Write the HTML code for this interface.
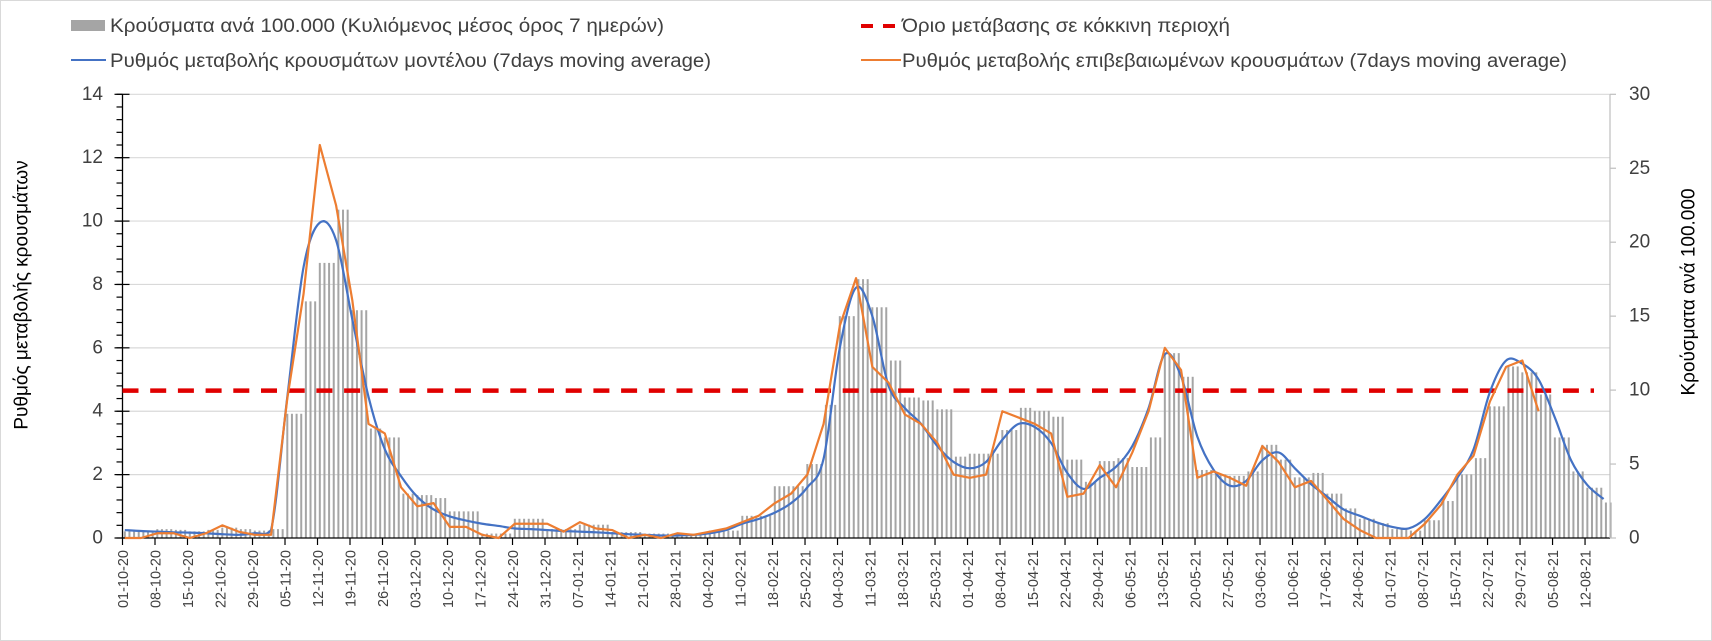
<!DOCTYPE html>
<html><head><meta charset="utf-8"><style>
html,body{margin:0;padding:0;background:#fff}
svg{display:block;font-family:"Liberation Sans",Arial,sans-serif}
</style></head><body>
<svg id="chart" width="1712" height="641" viewBox="0 0 1712 641" xmlns="http://www.w3.org/2000/svg">
<rect x="0.5" y="0.5" width="1711" height="640" fill="#fff" stroke="#d9d9d9"/>
<g id="grid"></g>
<g id="bars"></g>
<g id="axes"></g>
<g id="lines"></g>
<g id="legend">
 <g>
  <rect x="71" y="20" width="34" height="11" fill="#a5a5a5"/>
  <text x="110" y="32" font-size="19" fill="#404040" textLength="554" lengthAdjust="spacingAndGlyphs">Κρούσματα ανά 100.000 (Κυλιόμενος μέσος όρος 7 ημερών)</text>
 </g>
 <g>
  <line x1="71" y1="60" x2="106" y2="60" stroke="#4472c4" stroke-width="2"/>
  <text x="110" y="67" font-size="19" fill="#404040" textLength="601" lengthAdjust="spacingAndGlyphs">Ρυθμός μεταβολής κρουσμάτων μοντέλου (7days moving average)</text>
 </g>
 <g>
  <line x1="861" y1="26" x2="900" y2="26" stroke="#e00000" stroke-width="4" stroke-dasharray="12,10"/>
  <text x="902" y="32" font-size="19" fill="#404040" textLength="328" lengthAdjust="spacingAndGlyphs">Όριο μετάβασης σε κόκκινη περιοχή</text>
 </g>
 <g>
  <line x1="861" y1="60" x2="901" y2="60" stroke="#ed7d31" stroke-width="2"/>
  <text x="902" y="67" font-size="19" fill="#404040" textLength="665" lengthAdjust="spacingAndGlyphs">Ρυθμός μεταβολής επιβεβαιωμένων κρουσμάτων (7days moving average)</text>
 </g>
</g>
<text transform="translate(22,295) rotate(-90)" text-anchor="middle" dominant-baseline="central" font-size="19" fill="#000">Ρυθμός μεταβολής κρουσμάτων</text>
<text transform="translate(1689,292) rotate(-90)" text-anchor="middle" dominant-baseline="central" font-size="19" fill="#000">Κρούσματα ανά 100.000</text>
</svg>
<script>
// ---- data (half-week samples, step 3.5 days from 01-10-20) ----
const weekLabels = ["01-10-20","08-10-20","15-10-20","22-10-20","29-10-20","05-11-20","12-11-20","19-11-20","26-11-20","03-12-20","10-12-20","17-12-20","24-12-20","31-12-20","07-01-21","14-01-21","21-01-21","28-01-21","04-02-21","11-02-21","18-02-21","25-02-21","04-03-21","11-03-21","18-03-21","25-03-21","01-04-21","08-04-21","15-04-21","22-04-21","29-04-21","06-05-21","13-05-21","20-05-21","27-05-21","03-06-21","10-06-21","17-06-21","24-06-21","01-07-21","08-07-21","15-07-21","22-07-21","29-07-21","05-08-21","12-08-21"];
const leftTicks = [0,2,4,6,8,10,12,14];
const rightTicks = [0,5,10,15,20,25,30];
const redThreshold = 4.65;
const modelRate = [0.25,0.22,0.2,0.18,0.17,0.15,0.12,0.1,0.15,0.25,4.45,8.55,9.95,9.4,6.9,4.45,2.8,1.95,1.3,0.9,0.68,0.55,0.45,0.38,0.3,0.28,0.25,0.22,0.2,0.18,0.15,0.12,0.1,0.08,0.08,0.1,0.15,0.25,0.45,0.6,0.8,1.1,1.6,2.5,6.0,7.9,7.0,4.8,4.1,3.6,2.9,2.4,2.2,2.4,3.1,3.6,3.5,3.0,2.05,1.55,1.9,2.25,2.9,4.1,5.8,5.1,3.2,2.15,1.65,1.8,2.45,2.7,2.2,1.7,1.3,0.9,0.7,0.5,0.35,0.3,0.6,1.2,1.9,2.8,4.6,5.6,5.5,5.0,3.8,2.45,1.67,1.23];
const confirmedRate = [0,0,0.15,0.15,0,0.15,0.4,0.2,0.1,0.1,4.4,7.7,12.4,10.5,7.5,3.6,3.3,1.6,1.0,1.1,0.35,0.35,0.1,0,0.45,0.45,0.45,0.2,0.5,0.3,0.25,0,0.1,0,0.15,0.1,0.2,0.3,0.5,0.7,1.1,1.4,2.0,3.6,6.7,8.2,5.4,4.9,3.9,3.6,3.0,2.0,1.9,2.0,4.0,3.8,3.6,3.3,1.3,1.4,2.3,1.6,2.7,4.0,6.0,5.3,1.9,2.1,1.9,1.65,2.9,2.4,1.6,1.8,1.2,0.6,0.25,0,0,0,0.45,1.05,2.0,2.6,4.3,5.4,5.6,4.0];
const casesPer100k = [0.45,0.5,0.6,0.55,0.45,0.55,0.7,0.6,0.5,0.6,8.4,16,18.6,22.2,15.4,7.4,6.8,3.0,2.9,2.7,1.8,1.8,0.3,0.3,1.3,1.3,0.6,0.6,0.9,0.9,0.4,0.4,0.3,0.3,0.3,0.3,0.5,0.5,1.5,1.5,3.5,3.5,5,9,15,17.5,15.6,12,9.5,9.3,8.7,5.5,5.7,5.7,7.3,8.8,8.6,8.2,5.3,3.8,5.2,5.4,4.8,6.8,12.5,10.9,4.6,4.3,4.2,4.5,6.3,5.3,4.1,4.4,3.0,2.0,1.3,1.0,0.6,0.5,1.2,2.5,4.3,5.4,8.9,11.6,11.2,9.7,6.8,4.5,3.4,2.4];
const totalDays = 321;

// ---- scales ----
const X0 = 122.5, DAY = 4.643, X1 = 1610, Y0 = 538, YT = 94.3;
const xDay = d => X0 + d * DAY;
const yL = v => Y0 - v * (Y0 - YT) / 14;
const yR = v => Y0 - v * (Y0 - YT) / 30;
const NS = "http://www.w3.org/2000/svg";
function mk(tag, attrs, parent){const e=document.createElementNS(NS,tag);for(const k in attrs)e.setAttribute(k,attrs[k]);parent.appendChild(e);return e;}
const grid=document.getElementById('grid'), bars=document.getElementById('bars'), axes=document.getElementById('axes'), lines=document.getElementById('lines');

leftTicks.forEach(v=>{ if(v>0){const g=mk('line',{x1:X0,x2:X1,y1:yL(v),y2:yL(v),stroke:'#d9d9d9','stroke-width':1.2},grid);

}});

// bars (daily, from half-week samples)
for(let d=0; d<totalDays; d++){
  const v = casesPer100k[Math.min(casesPer100k.length-1, Math.floor(d/3.5))];
  const b = mk('rect',{x:xDay(d)+1.3,y:yR(v),width:2,height:Y0-yR(v),fill:'#a5a5a5'},bars);
  
  
}

// axes
mk('line',{x1:X0,x2:X0,y1:YT,y2:Y0,stroke:'#000','stroke-width':1.3},axes);
mk('line',{x1:X0,x2:X1,y1:Y0,y2:Y0,stroke:'#000','stroke-width':1.3},axes);
mk('line',{x1:X1,x2:X1,y1:YT,y2:Y0,stroke:'#bfbfbf','stroke-width':1.2},axes);
for(let v=0; v<=14.001; v+=0.4){ mk('line',{x1:X0-6,x2:X0,y1:yL(v),y2:yL(v),stroke:'#000','stroke-width':1.2},axes); }
leftTicks.forEach(v=>{
  mk('line',{x1:X0-8,x2:X0+7,y1:yL(v),y2:yL(v),stroke:'#000','stroke-width':1.2},axes);
  const t=mk('text',{x:103,y:yL(v),'text-anchor':'end','dominant-baseline':'central','font-size':19,fill:'#404040'},axes);
  t.textContent=v;
  
  
});
rightTicks.forEach(v=>{
  mk('line',{x1:X1,x2:X1+6,y1:yR(v),y2:yR(v),stroke:'#bfbfbf','stroke-width':1.2},axes);
  const t=mk('text',{x:1629,y:yR(v),'text-anchor':'start','dominant-baseline':'central','font-size':19,fill:'#404040'},axes);
  t.textContent=v;
  
  
});
weekLabels.forEach((lab,k)=>{
  const x=xDay(7*k);
  mk('line',{x1:x,x2:x,y1:Y0,y2:Y0+7,stroke:'#000','stroke-width':1.2},axes);
  const t=mk('text',{transform:`translate(${x+1.5},550) rotate(-90)`,'text-anchor':'end','dominant-baseline':'central','font-size':14.5,fill:'#404040'},axes);
  t.textContent=lab;
  
  
});

// red threshold
const red=mk('line',{x1:X0,x2:1594,y1:yL(redThreshold),y2:yL(redThreshold),stroke:'#e00000','stroke-width':4.5,'stroke-dasharray':'16,11.7'},lines);



// smooth path (catmull-rom, control points clamped to baseline)
function smooth(pts){let d=`M${pts[0][0]},${pts[0][1]}`;for(let i=0;i<pts.length-1;i++){const p0=pts[i-1]||pts[i],p1=pts[i],p2=pts[i+1],p3=pts[i+2]||p2;
const c1=[p1[0]+(p2[0]-p0[0])/6,Math.min(Y0-1,p1[1]+(p2[1]-p0[1])/6)],c2=[p2[0]-(p3[0]-p1[0])/6,Math.min(Y0-1,p2[1]-(p3[1]-p1[1])/6)];
d+=` C${c1[0]},${c1[1]} ${c2[0]},${c2[1]} ${p2[0]},${p2[1]}`;}return d;}
const bluePts=modelRate.map((v,i)=>[xDay(3.5*i)+2.3,yL(v)]);
const blue=mk('path',{d:smooth(bluePts),fill:'none',stroke:'#4472c4','stroke-width':2.2},lines);


const orPts=confirmedRate.map((v,i)=>`${xDay(3.5*i)+2.3},${yL(v)}`).join(' ');
const orange=mk('polyline',{points:orPts,fill:'none',stroke:'#ed7d31','stroke-width':2.2,'stroke-linejoin':'round'},lines);


</script>
</body></html>
